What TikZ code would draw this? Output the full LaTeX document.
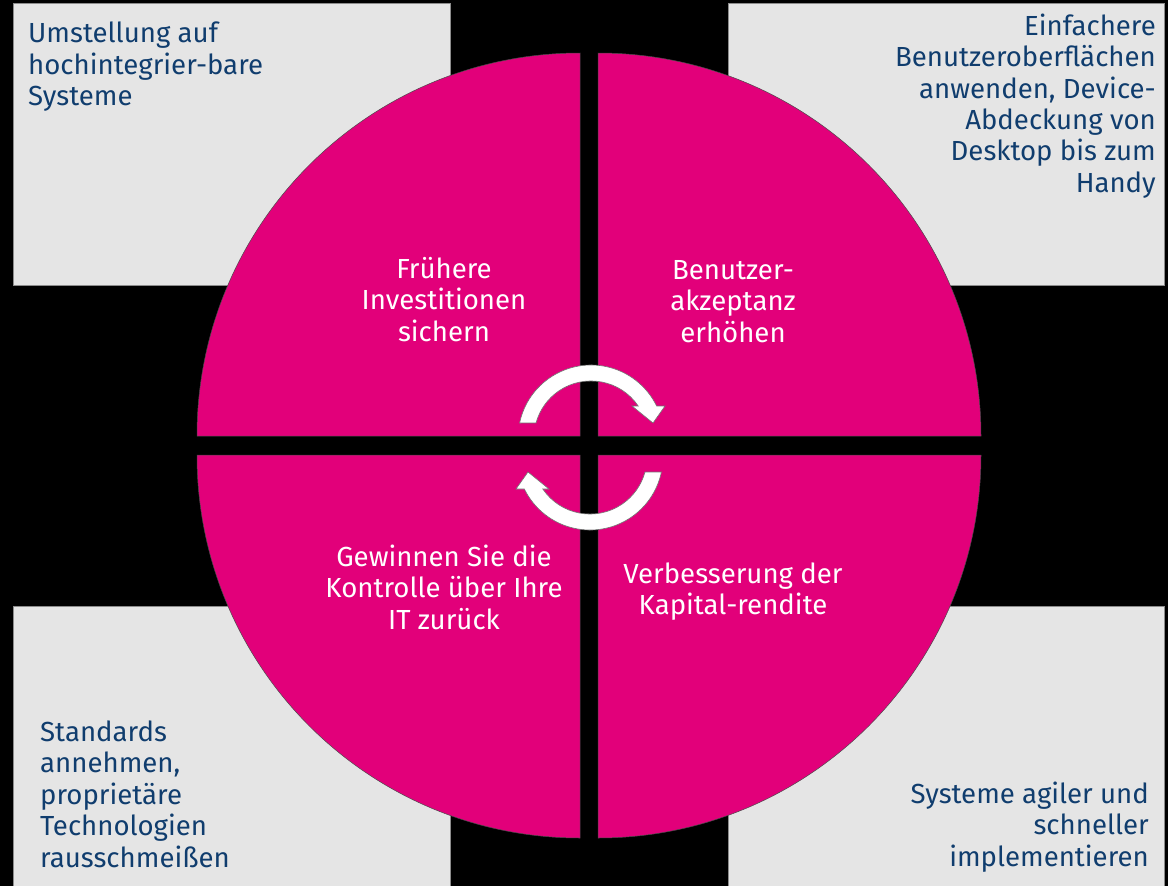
\documentclass[tikz,border=0pt]{standalone}
\usepackage{fontspec}
\setmainfont{Fira Sans}
\definecolor{mag}{RGB}{226,0,122}
\definecolor{navy}{RGB}{16,61,110}
\definecolor{boxgrey}{RGB}{229,229,229}
\newcommand{\tbl}[2]{\begin{tabular}[t]{@{}#1@{}}#2\end{tabular}}
\begin{document}
\begin{tikzpicture}[x=1pt,y=-1pt,
  greybox/.style={fill=boxgrey,draw=black!45,line width=0.6pt},
  quad/.style={fill=mag,draw=black!70,line width=0.5pt},
  cyc/.style={fill=white,draw=black!55,line width=0.6pt},
  bluetxt/.style={text=navy,inner sep=0pt,font=\fontsize{27.6}{31.5}\selectfont},
  whitetxt/.style={text=white,inner sep=0pt,font=\fontsize{27.6}{31.5}\selectfont}]
\fill[black] (0,0) rectangle (1168,886);
\useasboundingbox (0,0) rectangle (1168,886);
% grey boxes
\draw[greybox] (13,3) rectangle (450,285);
\draw[greybox] (728,3) rectangle (1164,285);
\draw[greybox] (13,606) rectangle (450,890);
\draw[greybox] (728,606) rectangle (1164,890);
% quadrants
\draw[quad] (580,436) -- (197,436) arc[start angle=180,end angle=270,radius=383] -- cycle;
\draw[quad] (598,436) -- (598,53) arc[start angle=270,end angle=360,radius=383] -- cycle;
\draw[quad] (598,455) -- (981,455) arc[start angle=0,end angle=90,radius=383] -- cycle;
\draw[quad] (580,455) -- (580,838) arc[start angle=90,end angle=180,radius=383] -- cycle;
% cycle arrows
\begin{scope}[shift={(591,438)}]
\draw[cyc] (-71.4,-15) arc[start angle=191.86,end angle=334,radius=73]
  -- (74,-32) -- (62,-15) -- (41,-32) -- (47.2,-32)
  arc[start angle=325.9,end angle=195.26,radius=57] -- cycle;
\end{scope}
\begin{scope}[shift={(590,457)},rotate=180]
\draw[cyc] (-71.4,-15) arc[start angle=191.86,end angle=334,radius=73]
  -- (74,-32) -- (62,-15) -- (41,-32) -- (47.2,-32)
  arc[start angle=325.9,end angle=195.26,radius=57] -- cycle;
\end{scope}
% texts in grey boxes
\node[bluetxt,anchor=base west] (ttl) at (28,42.7) {\tbl{l}{Umstellung auf\\hochintegrier-bare\\Systeme}};
\node[bluetxt,anchor=base east] (ttr) at (1156,35) {\tbl{r}{Einfachere\\Benutzeroberflächen\\anwenden, Device-\\Abdeckung von\\Desktop bis zum\\Handy}};
\node[bluetxt,anchor=base west] (tbl) at (40,741) {\tbl{l}{Standards\\annehmen,\\proprietäre\\Technologien\\rausschmeißen}};
\node[bluetxt,anchor=base east] (tbr) at (1149,803) {\tbl{r}{Systeme agiler und\\schneller\\implementieren}};
% texts in quadrants
\node[whitetxt,anchor=base] (qtl) at (444,278) {\tbl{c}{Frühere\\Investitionen\\sichern}};
\node[whitetxt,anchor=base] (qtr) at (733,279) {\tbl{c}{Benutzer-\\akzeptanz\\erhöhen}};
\node[whitetxt,anchor=base] (qbl) at (444,566) {\tbl{c}{Gewinnen Sie die\\Kontrolle über Ihre\\IT zurück}};
\node[whitetxt,anchor=base] (qbr) at (733,583) {\tbl{c}{Verbesserung der\\Kapital-rendite}};
\end{tikzpicture}
\end{document}
